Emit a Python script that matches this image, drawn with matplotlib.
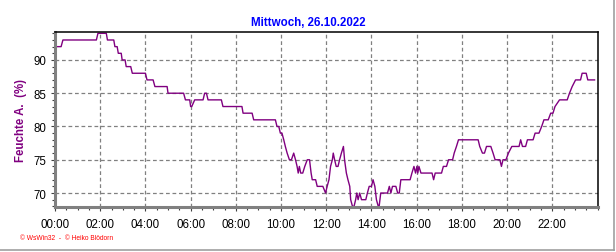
import matplotlib
matplotlib.use("Agg")
import matplotlib.pyplot as plt
from matplotlib.ticker import MultipleLocator
from matplotlib.lines import Line2D

# ---- data (time in hours, relative humidity in %) ----
hours = [0.00, 0.27, 0.35, 1.83, 1.90, 2.27, 2.32, 2.60, 2.65, 2.75, 2.80, 2.93, 2.97, 3.10,
         3.15, 3.35, 3.42, 4.00, 4.07, 4.34, 4.42, 4.96, 5.00, 5.69, 5.77, 5.96, 6.00, 6.05,
         6.18, 6.55, 6.62, 6.70, 6.77, 7.36, 7.43, 8.27, 8.32, 8.72, 8.79, 9.75, 9.82, 9.90,
         9.97, 10.04, 10.12, 10.19, 10.27, 10.37, 10.46, 10.56, 10.64, 10.71, 10.76, 10.81,
         10.87, 10.96, 11.05, 11.16, 11.26, 11.33, 11.38, 11.53, 11.60, 11.85, 11.97, 12.04,
         12.12, 12.19, 12.27, 12.31, 12.37, 12.44, 12.52, 12.59, 12.67, 12.76, 12.81, 12.89,
         12.96, 13.04, 13.08, 13.16, 13.23, 13.30, 13.35, 13.41, 13.48, 13.56, 13.75, 13.82,
         13.90, 14.00, 14.07, 14.15, 14.22, 14.30, 14.34, 14.41, 14.71, 14.79, 14.86, 14.93,
         15.08, 15.16, 15.23, 15.30, 15.71, 15.79, 15.88, 15.95, 16.01, 16.05, 16.10, 16.19,
         16.68, 16.75, 16.82, 17.10, 17.18, 17.32, 17.41, 17.59, 17.66, 17.76, 17.85, 18.72,
         18.79, 18.91, 19.00, 19.09, 19.28, 19.38, 19.47, 19.68, 19.75, 19.82, 19.95, 20.06,
         20.21, 20.53, 20.60, 20.68, 20.82, 20.90, 21.15, 21.24, 21.41, 21.53, 21.63, 21.82,
         21.93, 22.03, 22.12, 22.32, 22.66, 22.76, 22.88, 23.03, 23.25, 23.32, 23.50, 23.57,
         23.87]
humidity = [92, 92, 93, 93, 94, 94, 93, 93, 92, 92, 91, 91, 90, 90,
            89, 89, 88, 88, 87, 87, 86, 86, 85, 85, 84, 84, 83, 83,
            84, 84, 85, 85, 84, 84, 83, 83, 82, 82, 81, 81, 80, 80,
            79, 79, 78, 77, 76, 75, 75, 76, 75, 74, 73, 74,
            73, 73, 74, 75, 75, 73, 72, 72, 71, 71, 70, 71,
            72, 74, 75, 76, 75, 74, 74, 75, 76, 77, 75, 73,
            72, 71, 69, 68, 68, 69, 70, 69, 70, 69, 69, 70,
            71, 71, 72, 71, 69, 68, 68, 70, 70, 71, 70, 71,
            71, 70, 70, 72, 72, 73, 74, 73, 74, 73, 74, 73,
            73, 72, 73, 73, 74, 74, 75, 75, 76, 77, 78, 78,
            77, 76, 76, 77, 77, 76, 75, 75, 74, 75, 75, 76,
            77, 77, 78, 77, 77, 78, 78, 79, 79, 80, 81, 81,
            82, 82, 83, 84, 84, 85, 86, 87, 87, 88, 88, 87,
            87]

title = "Mittwoch, 26.10.2022"
ylabel = "Feuchte A.  (%)"
credit = "\u00a9 WsWin32  -  \u00a9 Heiko Blödorn"
x_ticks = [0, 2, 4, 6, 8, 10, 12, 14, 16, 18, 20, 22]
x_labels = ["00:00", "02:00", "04:00", "06:00", "08:00", "10:00",
            "12:00", "14:00", "16:00", "18:00", "20:00", "22:00"]
y_ticks = [70, 75, 80, 85, 90]

plt.rcParams['font.family'] = ['Liberation Sans', 'DejaVu Sans']

W, H = 616, 253
fig = plt.figure(figsize=(W / 100, H / 100), dpi=100)
fig.patch.set_facecolor('white')

ax = fig.add_axes([55 / W, 1 - 208 / H, 542.5 / W, 175 / H])
ax.plot(hours, humidity, color='#800080', lw=1.0)

ax.set_xlim(0, 24)
ax.set_ylim(67.9, 94.2)

ax.set_xticks(x_ticks)
ax.set_xticklabels(x_labels)
ax.xaxis.set_minor_locator(MultipleLocator(0.5))
ax.set_yticks(y_ticks)
ax.yaxis.set_minor_locator(MultipleLocator(1))

ax.grid(True, which='major', color='#808080', linestyle=(0, (3, 2.2)), lw=0.9)

ax.tick_params(axis='both', which='major', labelsize=8.3, colors='black', length=3, width=0.8, pad=3)
ax.tick_params(axis='both', which='minor', length=2.5, width=0.8, color='#404040')
ax.tick_params(axis='x', which='major', pad=5)
ax.tick_params(axis='x', which='major', color='#404040')
ax.tick_params(axis='y', which='major', color='#404040')

for side in ('left', 'bottom'):
    ax.spines[side].set_color('#808080')
    ax.spines[side].set_linewidth(2.2)
for side in ('top', 'right'):
    ax.spines[side].set_color('black')
    ax.spines[side].set_linewidth(1.1)

ax.set_ylabel(ylabel, color='#800080', fontsize=8.3, fontweight='bold')
ax.yaxis.set_label_coords(-0.052, 0.5)

fig.text(308 / W, 1 - 22.5 / H, title, color='#0000ff', fontsize=8.3, fontweight='bold',
         ha='center', va='center')
fig.text(20 / W, 1 - 238.5 / H, credit, color='#ff0000', fontsize=4.8,
         ha='left', va='center')

# outer frame (right and bottom)
fig.add_artist(Line2D([614 / W, 614 / W], [1 - 251 / H, 1], transform=fig.transFigure,
                      color='#a0a0a0', lw=1.2))
fig.add_artist(Line2D([0, 614 / W], [1 - 251 / H, 1 - 251 / H], transform=fig.transFigure,
                      color='#a0a0a0', lw=1.2))

fig.savefig('out.png', dpi=100, facecolor='white')
